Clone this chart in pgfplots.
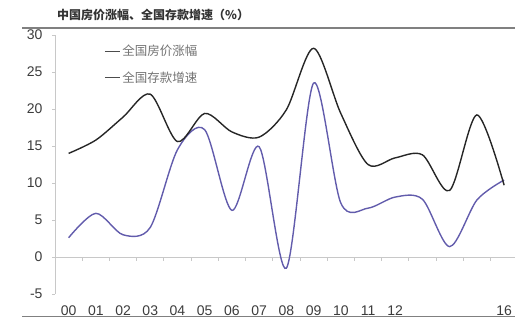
\documentclass[border=0pt]{standalone}
\usepackage{pgfplots}
\pgfplotsset{compat=1.18}
\usepackage{fontspec}
\setmainfont{Liberation Sans}
\newfontfamily\cjk{Noto Sans CJK SC}
\definecolor{priceblue}{RGB}{98,92,172}
\definecolor{depblack}{RGB}{38,38,38}
\definecolor{axgray}{RGB}{200,200,200}
\definecolor{labgray}{RGB}{60,60,60}
\pgfplotstableread{
x price deposit
0 2.6 14.0
1 5.9 15.8
2 3.0 18.9
3 4.0 22.0
4 14.5 15.6
5 17.2 19.4
6 6.3 16.9
7 14.9 16.2
8 -1.5 19.9
9 23.5 28.2
10 7.3 19.4
11 6.6 12.5
12 8.1 13.4
13 7.8 13.8
14 1.4 9.0
15 7.7 19.2
16 10.4 9.7
}\datatable
\begin{document}
\begin{tikzpicture}[x=1pt,y=1pt]
\useasboundingbox (0,0) rectangle (520,321);
\node[font=\cjk\bfseries\fontsize{12}{14}\selectfont, text=black!80, anchor=west, inner sep=0] at (57,306) {中国房价涨幅、全国存款增速（\%）};
% frame rules (top and bottom)
\begin{axis}[
  scale only axis, width=493pt, height=288.5pt,
  at={(22pt,4.5pt)}, anchor=south west,
  xmin=0, xmax=1, ymin=0, ymax=1,
  axis x line=box, axis y line=none,
  x axis line style={-, draw=black!50, line width=1.6pt},
  xtick=\empty, ytick=\empty,
]
\end{axis}
% zero line with ticks
\begin{axis}[
  scale only axis, width=460pt, height=259pt,
  at={(55pt,27pt)}, anchor=south west,
  xmin=-0.5, xmax=16.4, ymin=-5, ymax=30,
  axis x line=middle, axis y line=none,
  x axis line style={-, draw=axgray, line width=0.8pt},
  xtick={0.5,1.5,...,15.5}, xticklabels={},
  xtick align=outside, major tick length=4pt,
  every tick/.style={axgray, line width=0.8pt},
]
\end{axis}
\begin{axis}[
  scale only axis, width=460pt, height=259pt,
  at={(55pt,27pt)}, anchor=south west,
  xmin=-0.5, xmax=16.4, ymin=-5, ymax=30,
  axis x line*=bottom, axis y line*=left,
  x axis line style={draw=none},
  y axis line style={-, draw=axgray, line width=0.8pt},
  xtick={0,1,2,3,4,5,6,7,8,9,10,11,12,16},
  xticklabels={00,01,02,03,04,05,06,07,08,09,10,11,12,16},
  ytick={-5,0,5,10,15,20,25,30},
  yticklabels={-5,0,5,10,15,20,25,30},
  major x tick style={draw=none},
  major y tick style={axgray, line width=0.8pt},
  ytick align=outside, major tick length=3pt,
  tick label style={font=\fontsize{14}{16}\selectfont, text=labgray},
  yticklabel style={xshift=-6pt},
  xticklabel style={yshift=-8pt},
  legend style={draw=none, fill=none, at={(axis cs:1.3,28.9)}, anchor=north west,
    font=\cjk\fontsize{12.5}{14}\selectfont, text=black!55,
    row sep=10pt, inner sep=0pt},
  legend cell align=left,
  legend image code/.code={\draw[black!70, line width=1.2pt] (0pt,0pt) -- (15pt,0pt);},
]
\addplot[priceblue, line width=1.4pt, smooth] table[x=x, y=price] {\datatable};
\addlegendentry{全国房价涨幅}
\addplot[depblack, line width=1.4pt, smooth] table[x=x, y=deposit] {\datatable};
\addlegendentry{全国存款增速}
\end{axis}
\end{tikzpicture}
\end{document}
